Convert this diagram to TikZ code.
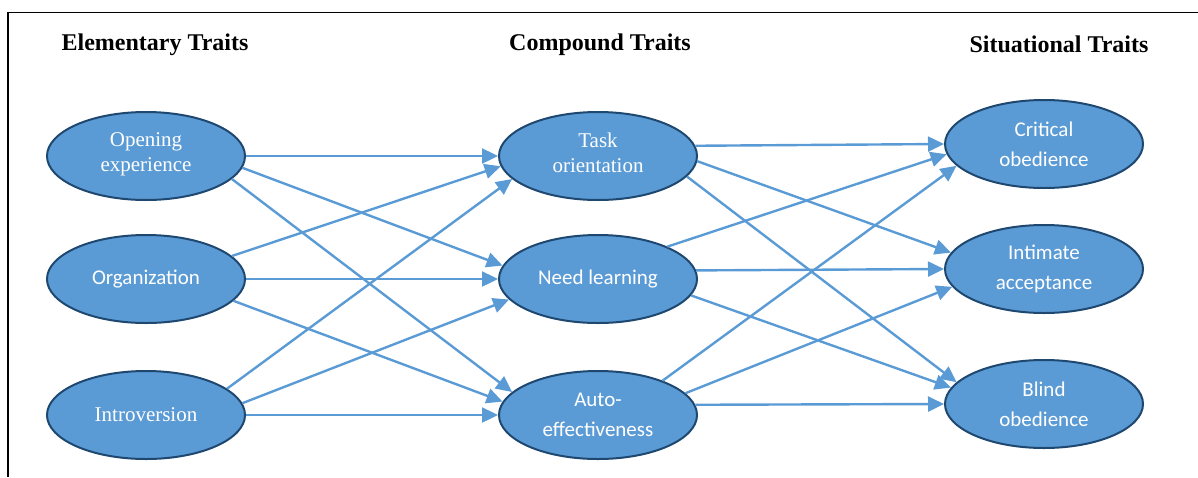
\documentclass[tikz,border=0pt]{standalone}
\usepackage{fontspec}
\setmainfont{Liberation Serif}
\newfontfamily\calfont{Carlito}
\usepackage{xcolor}
\usepackage{tikz}
\usetikzlibrary{arrows.meta,shapes.geometric}

\definecolor{traitfill}{RGB}{91,155,213}
\definecolor{traitedge}{RGB}{31,72,112}

\begin{document}
\begin{tikzpicture}[
  x=0.5pt, y=-0.5pt,
  trait/.style={ellipse, draw=traitedge, fill=traitfill, line width=1pt, minimum width=99pt, minimum height=44pt, inner sep=0pt, align=center, text=white, font=\fontsize{10.5}{12.5}\selectfont},
  strait/.style={trait, font=\calfont\fontsize{10.5}{15}\selectfont},
  head/.style={anchor=base, font=\bfseries\fontsize{12}{14}\selectfont},
  link/.style={-{Triangle[length=8pt,width=7.5pt]}, draw=traitfill, line width=1.2pt}
]
\useasboundingbox (0,0) rectangle (1198,477);
\draw[line width=0.75pt] (1198,12.5) -- (8,12.5) -- (8,477);

\node[head] (elem) at (155,50) {Elementary Traits};
\node[head] (comp) at (600,50) {Compound Traits};
\node[head] (situ) at (1059,52) {Situational Traits};

% elementary
\node[trait]  (open)  at (146,156) {Opening\\experience\\[-9pt]};
\node[strait] (org)   at (146,279) {Organization};
\node[trait]  (intro) at (146,415) {Introversion};
% compound
\node[trait]  (task)  at (598,156) {Task\\orientation\\[-9pt]};
\node[strait] (need)  at (598,279) {Need learning};
\node[strait] (auto)  at (598,415) {Auto-\\effectiveness};
% situational
\node[strait] (crit)  at (1044,144) {Critical\\obedience};
\node[strait] (intim) at (1044,269) {Intimate\\acceptance};
\node[strait] (blind) at (1044,404) {Blind\\obedience};

\draw[link] (open.east) -- (task.west);
\draw[link] (open.-7.6) -- (need.172.4);
\draw[link] (open.-15.4) -- (auto.165.5);
\draw[link] (org.15) -- (task.186.5);
\draw[link] (org.east) -- (need.west);
\draw[link] (org.-14.8) -- (auto.172.4);
\draw[link] (intro.18.4) -- (task.195.6);
\draw[link] (intro.7.1) -- (need.193.2);
\draw[link] (intro.east) -- (auto.west);

\draw[link] (task.6.9) -- (crit.west);
\draw[link] (task.-3.5) -- (intim.170);
\draw[link] (task.-13.3) -- (blind.166.1);
\draw[link] (need.25.3) -- (crit.186.2);
\draw[link] (need.5.2) -- (intim.west);
\draw[link] (need.-10.8) -- (blind.170.8);
\draw[link] (auto.28.9) -- (crit.194.8);
\draw[link] (auto.14.5) -- (intim.191.2);
\draw[link] (auto.6.9) -- (blind.west);
\end{tikzpicture}
\end{document}
